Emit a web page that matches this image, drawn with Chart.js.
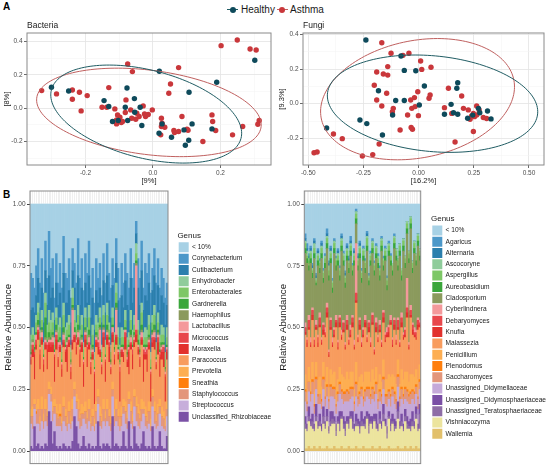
<!DOCTYPE html>
<html><head><meta charset="utf-8">
<script src="https://cdn.jsdelivr.net/npm/chart.js@4.4.0/dist/chart.umd.min.js"></script>
<style>
html,body{margin:0;padding:0;background:#fff;}
body{width:550px;height:469px;position:relative;overflow:hidden;font-family:'Liberation Sans',Arial,sans-serif;}
.box{position:absolute;}
.lbl{position:absolute;font-weight:bold;font-size:10px;color:#000;line-height:12px;}
.key{position:absolute;width:11px;height:10px;}
.key .ln{position:absolute;left:0;top:4.5px;width:11px;height:1px;}
.key .dt{position:absolute;left:2.5px;top:2px;width:6px;height:6px;border-radius:50%;}
.ktxt{position:absolute;font-size:10px;line-height:12px;color:#1a1a1a;}
</style></head><body>
<div class="lbl" style="left:3px;top:1px">A</div>
<div class="lbl" style="left:3px;top:189px">B</div>
<div class="key" style="left:227px;top:4.7px"><div class="ln" style="background:#1f5c63"></div><div class="dt" style="background:#0e4a5b"></div></div>
<div class="ktxt" style="left:241px;top:3.7px">Healthy</div>
<div class="key" style="left:276.5px;top:4.7px"><div class="ln" style="background:#c0605f"></div><div class="dt" style="background:#c9373b"></div></div>
<div class="ktxt" style="left:290px;top:3.7px">Asthma</div>

<div class="box" style="left:0;top:0;width:275px;height:188px"><canvas id="cBS" width="275" height="188"></canvas></div>
<div class="box" style="left:275px;top:0;width:275px;height:188px"><canvas id="cFS" width="275" height="188"></canvas></div>
<div class="box" style="left:0;top:185px;width:278px;height:284px"><canvas id="cBB" width="278" height="284"></canvas></div>
<div class="box" style="left:275px;top:185px;width:275px;height:284px"><canvas id="cFB" width="275" height="284"></canvas></div>

<script>
// ---------- PCoA scatter data ----------
const bactHealthyX = [-0.301,-0.250,-0.145,-0.131,-0.120,-0.103,-0.077,-0.082,-0.075,-0.055,-0.054,-0.038,-0.033,0.019,0.018,0.027,0.055,0.092,0.096,0.106,0.107,0.116,0.189,0.175,0.302];
const bactHealthyY = [0.126,0.104,0.046,0.010,-0.080,-0.074,0.122,0.006,-0.074,0.058,-0.024,0.006,-0.104,0.222,-0.150,-0.094,-0.174,-0.130,-0.222,-0.192,0.096,-0.094,0.156,-0.124,0.288];
const bactAsthmaX = [-0.330,-0.286,-0.239,-0.239,-0.218,-0.213,-0.195,-0.151,-0.137,-0.131,-0.113,-0.080,-0.075,-0.082,-0.098,-0.090,-0.108,-0.094,-0.061,-0.051,-0.048,-0.063,-0.029,-0.022,-0.025,-0.014,-0.002,0.052,0.076,0.047,0.086,0.025,0.025,0.035,0.062,0.064,0.023,0.076,0.101,0.104,0.148,0.175,0.177,0.186,0.202,0.250,0.288,0.306,0.266,0.236,0.315,0.311,-0.105,-0.066,-0.041,-0.108,0.027];
const bactAsthmaY = [0.106,0.086,0.110,0.054,0.096,-0.016,0.076,0.006,0.006,0.124,-0.004,0.050,0.266,-0.026,-0.054,-0.080,-0.094,-0.086,0.220,-0.066,-0.030,-0.060,0.014,-0.050,-0.034,-0.038,-0.010,0.146,0.244,0.090,-0.050,-0.060,-0.110,-0.114,-0.134,-0.146,-0.160,-0.140,-0.126,-0.132,-0.200,-0.040,-0.080,-0.134,0.376,0.410,0.356,0.350,-0.110,-0.160,-0.074,-0.096,-0.040,-0.010,-0.050,-0.070,-0.090];
const fungHealthyX = [-0.239,-0.417,-0.266,-0.235,-0.164,-0.182,-0.118,-0.104,-0.065,-0.080,-0.065,-0.013,0.003,0.026,0.117,0.147,0.158,0.173,0.177,0.177,0.222,0.245,0.271,0.277,0.312,0.328];
const fungHealthyY = [0.368,-0.140,-0.094,-0.115,-0.181,0.075,-0.065,0.018,0.018,0.275,0.192,0.190,-0.008,0.102,-0.061,-0.004,-0.052,0.089,0.121,-0.061,-0.084,-0.066,-0.027,-0.052,-0.042,-0.088];
const fungAsthmaX = [-0.474,-0.460,-0.386,-0.346,-0.255,-0.208,-0.179,-0.201,-0.190,-0.167,-0.190,-0.160,-0.140,-0.140,-0.125,-0.167,-0.145,-0.115,-0.119,-0.084,-0.050,-0.031,-0.016,-0.019,-0.044,-0.071,-0.036,-0.004,-0.001,0.009,0.014,0.047,0.056,0.052,0.117,0.135,0.150,0.165,0.195,0.203,0.225,0.248,0.263,0.233,0.248,0.263,0.274,0.293,0.308,0.253,0.240,-0.034,-0.028];
const fungAsthmaY = [-0.283,-0.279,-0.175,-0.202,-0.302,-0.294,-0.233,0.106,0.021,-0.013,0.183,0.171,0.165,0.214,0.291,0.352,0.060,-0.027,-0.046,-0.152,-0.065,-0.027,-0.017,0.035,0.291,0.279,0.021,0.069,-0.069,0.246,0.198,0.031,0.210,0.050,-0.023,0.089,-0.056,-0.221,0.044,-0.027,-0.036,-0.056,-0.065,-0.090,-0.161,-0.013,-0.036,-0.080,-0.086,-0.075,-0.071,-0.137,-0.148];
// confidence ellipses: [centerX, centerY, semiAxis1X, semiAxis1Y, semiAxis2X, semiAxis2Y]
const bactEllipseHealthy = [-0.020,-0.035,0.283,-0.115,0,0.271];
const bactEllipseAsthma = [-0.012,-0.025,0.333,-0.075,0,0.255];
const fungEllipseHealthy = [0.063,0.000,0.470,0,-0.079,0.281];
const fungEllipseAsthma = [-0.005,0.026,0.430,0,0.090,0.350];

// ---------- Bacteria relative abundance (% per sample) ----------
const bactSamples = 'B01 B02 B03 B04 B05 B06 B07 B08 B09 B10 B11 B12 B13 B14 B15 B16 B17 B18 B19 B20 B21 B22 B23 B24 B25 B26 B27 B28 B29 B30 B31 B32 B33 B34 B35 B36 B37 B38 B39 B40 B41 B42 B43 B44 B45 B46 B47 B48 B49 B50 B51 B52 B53 B54 B55 B56 B57 B58 B59 B60 B61 B62 B63 B64 B65 B66 B67 B68 B69 B70 B71 B72 B73 B74 B75 B76'.split(' ');
const bactGenera = ['Unclassified_Rhizobiaceae','Streptococcus','Staphylococcus','Sneathia','Prevotella','Paracoccus','Moraxella','Micrococcus','Lactobacillus','Haemophilus','Gardnerella','Enterobacterales','Enhydrobacter','Cutibacterium','Corynebacterium','< 10%'];
const bRhizo = [2,1,10,2,3,1,2,1,3,2,16,12,3,8,2,1,2,1,3,2,1,2,1,4,14,10,3,1,2,6,2,1,3,1,2,1,2,12,2,1,3,2,3,2,1,14,2,3,2,1,2,8,2,1,12,2,1,10,3,2,1,3,8,2,1,2,1,10,2,1,2,8,2,1,1,6];
const bStrep = [9,8,7,9,8,7,10,8,9,8,7,8,9,7,8,9,8,7,9,8,7,9,8,8,8,7,9,8,8,7,9,8,9,7,8,7,9,7,8,8,9,8,9,8,7,8,8,9,8,7,8,7,9,8,7,9,8,8,9,8,8,9,7,8,8,9,7,8,9,8,8,7,8,8,7,8];
const bStaph = [3,5,2,4,6,3,5,3,5,4,2,3,4,3,5,3,4,3,6,4,3,5,2,5,3,3,5,4,5,2,5,4,5,3,4,2,5,3,4,3,5,3,5,4,3,3,4,5,4,2,4,3,5,4,2,5,3,4,6,5,4,5,2,4,3,5,2,4,5,3,5,3,4,4,2,3];
const bSneath = [0,0,0,1,0,0,0,0,0,0,0,0,0,0,0,0,1,0,0,0,0,0,0,0,0,0,0,0,0,0,0,0,0,0,0,0,0,0,0,0,0,0,0,0,0,0,0,0,0,0,0,0,0,0,0,0,0,0,0,0,0,0,0,0,0,0,0,0,0,0,0,0,0,0,0,0];
const bPrevo = [3,4,2,3,4,3,5,3,4,3,3,3,4,3,4,3,4,3,4,3,3,4,3,4,3,3,4,3,4,3,4,3,4,3,3,3,4,3,4,3,4,3,4,3,3,3,3,4,3,3,4,3,4,3,3,4,3,3,4,4,3,4,3,4,3,4,3,3,4,3,4,3,4,3,3,3];
const bParaco = [18,20,8,22,24,19,21,17,20,16,12,14,20,7,22,18,21,16,20,19,18,22,15,20,16,16,22,18,21,8,22,18,20,17,20,6,22,14,20,16,21,12,22,19,17,16,18,22,20,7,20,15,21,18,7,21,18,17,22,20,18,22,8,19,17,21,7,17,21,18,20,9,19,18,7,17];
const bMorax = [2,3,10,2,3,6,2,3,2,8,3,2,3,10,4,3,2,3,2,4,9,2,3,3,2,3,2,5,3,9,3,7,2,3,2,12,2,3,2,3,4,8,3,6,2,3,2,3,2,12,2,3,5,2,9,2,6,2,3,2,3,2,11,2,7,2,11,2,4,2,5,8,3,6,10,3];
const bMicro = [1,2,1,2,1,2,1,2,1,2,1,2,1,1,2,1,1,2,1,1,2,1,2,1,1,2,1,2,1,1,2,1,1,2,1,1,1,2,1,1,2,1,1,2,1,1,2,1,1,2,1,1,2,1,1,1,2,1,2,1,1,1,2,1,2,1,1,2,1,1,2,1,1,2,1,1];
const bLacto = [1,1,0,2,1,1,2,1,1,1,1,1,2,1,1,6,1,1,2,1,1,1,1,12,1,1,2,1,1,1,1,1,2,1,1,1,1,1,8,1,1,1,1,1,1,2,1,10,1,1,1,1,1,1,1,2,1,1,26,1,1,2,1,1,1,1,1,1,2,1,1,1,1,1,1,1];
const bHaemo = [0,1,1,0,1,0,1,0,1,0,1,0,1,0,1,0,1,0,1,0,1,0,1,1,0,1,1,0,1,0,1,0,1,0,1,0,1,0,1,0,1,0,1,0,1,0,1,1,0,1,0,1,0,1,0,1,0,1,1,0,1,1,0,1,0,1,0,1,1,0,1,0,1,0,1,0];
const bGardn = [1,0,1,1,2,1,1,1,8,1,2,1,1,1,2,1,1,1,2,1,1,1,1,1,2,1,2,1,1,1,1,1,2,1,1,1,1,1,1,1,1,1,2,1,1,1,1,2,1,1,1,1,1,1,1,2,1,1,1,2,1,2,1,1,1,1,1,1,2,1,1,1,1,1,1,1];
const bEntero = [3,2,2,4,3,3,3,2,6,3,4,3,4,2,3,3,4,3,5,3,3,4,3,3,3,2,4,3,4,3,4,3,5,2,4,3,3,3,3,3,4,3,4,3,3,3,3,4,4,3,3,3,3,3,2,4,3,3,3,4,3,5,2,3,3,4,3,3,4,3,3,3,3,3,3,3];
const bEnhyd = [4,3,3,3,4,3,4,3,4,3,5,4,4,3,4,3,4,3,5,4,3,4,3,4,4,3,4,3,4,3,4,3,5,3,4,3,4,3,4,3,4,3,5,3,3,4,3,4,4,3,4,3,4,3,3,4,3,4,4,4,3,4,3,4,3,4,3,3,4,3,4,3,4,3,3,4];
const bCuti = [10,8,9,8,10,9,9,8,9,8,14,9,10,7,10,8,10,11,12,10,8,10,9,7,9,7,12,10,11,10,10,10,12,11,11,9,10,8,8,9,10,11,11,9,11,9,10,8,11,9,13,9,12,13,9,13,11,11,4,13,12,13,9,13,12,13,12,10,12,12,11,10,12,10,11,9];
const bCoryn = [15,12,10,12,12,10,12,12,12,11,18,12,12,9,12,9,12,12,15,12,10,13,10,9,10,9,15,11,12,11,12,12,14,12,12,11,13,10,10,11,11,12,13,11,12,11,12,10,13,10,13,10,11,13,9,12,10,10,5,12,11,12,9,13,11,12,12,9,11,12,11,9,11,10,11,9];
const bOther = [28,30,34,25,18,32,22,36,15,30,11,26,22,38,20,32,24,34,13,28,30,22,38,18,24,32,14,30,22,35,20,28,15,34,26,40,22,30,24,37,20,32,16,28,34,22,30,14,26,38,24,32,20,28,34,18,30,24,7,22,30,15,34,24,28,20,36,26,18,32,22,34,26,30,38,32];

// ---------- Fungi relative abundance (% per sample) ----------
const fungSamples = 'F01 F02 F03 F04 F05 F06 F07 F08 F09 F10 F11 F12 F13 F14 F15 F16 F17 F18 F19 F20 F21 F22 F23 F24 F25 F26 F27 F28 F29 F30 F31 F32 F33 F34 F35 F36 F37 F38 F39 F40 F41 F42 F43 F44 F45 F46 F47 F48 F49 F50 F51 F52 F53 F54 F55 F56 F57 F58 F59 F60 F61 F62 F63 F64'.split(' ');
const fungGenera = ['Wallemia','Vishniacozyma','Unassigned_Teratosphaeriaceae','Unassigned_Didymosphaeriaceae','Unassigned_Didymellaceae','Saccharomyces','Plenodomus','Penicillium','Malassezia','Knufia','Debaryomyces','Cyberlindnera','Cladosporium','Aureobasidium','Aspergillus','Ascocoryne','Alternaria','Agaricus','< 10%'];
const fWall = [1,1,2,1,1,2,1,1,2,1,1,1,2,1,1,1,2,1,1,1,2,1,1,1,2,1,1,1,2,1,1,1,2,1,1,1,1,2,1,1,1,2,1,1,1,1,2,1,1,1,1,2,1,1,1,2,1,1,2,1,1,2,1,1];
const fVish = [8,7,10,9,8,6,11,8,8,7,10,8,10,6,9,10,9,5,10,7,11,8,5,10,7,12,8,7,8,9,6,9,8,8,12,6,10,7,11,8,7,9,8,11,9,4,11,7,10,7,8,11,8,9,7,10,8,8,6,9,8,11,7,8];
const fTera = [2,1,2,1,3,1,2,1,2,1,3,1,2,1,2,2,1,2,1,3,1,2,2,1,2,1,3,1,2,1,2,2,1,2,1,3,1,2,1,2,1,2,1,3,1,2,1,2,1,2,1,3,1,2,1,2,2,1,2,2,1,2,1,6];
const fDidymo = [3,2,4,2,3,2,5,2,3,2,4,2,3,2,4,3,2,3,2,5,2,3,4,2,3,2,4,2,3,2,3,4,2,3,2,5,2,3,2,4,2,3,2,4,2,3,2,3,3,3,2,4,2,3,2,3,3,2,3,4,2,3,2,4];
const fDidyme = [6,5,6,7,8,4,6,7,4,6,7,6,5,7,6,6,7,4,6,7,5,5,8,6,6,5,6,5,7,5,7,6,5,6,6,6,5,7,5,8,6,4,7,6,6,8,5,5,7,6,5,6,6,6,8,4,6,7,6,5,7,5,6,6];
const fSacch = [4,3,4,3,5,3,4,3,4,3,4,3,4,3,4,3,4,3,3,4,3,4,3,4,3,4,3,3,5,3,4,3,3,4,3,4,3,4,3,4,3,4,3,4,3,4,3,4,3,4,3,4,3,4,3,4,4,3,4,3,4,3,4,3];
const fPleno = [1,1,0,1,1,1,1,1,0,1,1,1,1,1,1,1,1,1,1,1,1,1,1,1,1,1,1,1,1,1,1,1,1,1,1,1,1,1,1,1,1,1,1,1,1,1,1,1,1,1,1,1,1,1,1,1,1,1,1,1,1,1,1,1];
const fPenic = [6,5,6,5,7,5,6,6,7,5,6,6,7,5,6,5,6,7,5,6,6,6,5,7,5,6,6,5,8,6,6,5,6,7,6,6,5,7,5,6,6,6,5,7,6,6,6,7,5,6,6,6,5,7,6,6,7,5,7,6,6,6,7,6];
const fMalas = [16,17,15,13,17,18,13,13,20,17,11,18,20,12,16,11,14,24,12,16,14,18,12,17,14,14,18,16,24,16,19,11,18,18,12,16,14,18,10,14,17,17,14,15,15,17,15,21,11,19,16,12,15,17,16,14,22,13,23,16,16,12,20,15];
const fKnufia = [1,2,1,1,2,1,1,2,1,1,2,1,2,1,1,1,1,2,1,2,1,1,1,2,1,1,2,1,1,1,2,1,1,2,1,2,1,1,1,2,1,1,1,2,1,1,2,1,1,2,1,1,1,2,1,1,2,1,1,2,1,1,2,1];
const fDebar = [2,1,3,1,2,2,1,2,3,1,2,1,2,1,3,1,2,1,2,2,1,3,1,2,1,2,2,1,3,1,2,1,2,1,1,2,1,3,1,2,1,2,1,2,2,1,2,1,2,2,1,3,1,2,1,2,2,1,2,2,1,2,2,1];
const fCyber = [2,1,2,2,1,1,2,1,2,1,1,2,2,1,1,2,1,2,1,1,2,1,1,2,1,2,1,2,20,1,1,2,1,2,1,1,2,1,1,2,1,2,1,1,1,2,1,2,1,1,2,1,1,2,1,1,12,1,2,1,2,1,1,1];
const fClado = [28,30,18,30,12,32,14,28,16,32,16,24,22,28,22,18,30,18,30,14,32,22,22,22,26,28,16,30,8,26,24,22,27,17,34,14,29,24,29,24,27,16,36,16,29,15,28,20,25,28,30,19,34,13,33,24,18,32,31,20,30,26,29,24];
const fAureo = [2,2,2,2,2,2,1,2,2,2,2,2,2,2,2,2,2,2,2,2,2,2,2,2,2,2,2,2,2,2,2,2,2,2,2,2,2,2,2,2,2,2,2,2,2,2,2,2,2,2,2,2,2,2,2,2,2,2,2,2,2,2,2,2];
const fAsper = [2,1,2,2,1,2,1,2,2,2,2,2,2,2,2,2,2,2,2,2,2,2,2,2,2,2,2,2,2,2,2,2,2,2,3,1,2,2,2,2,2,2,2,2,2,2,2,2,2,2,2,2,2,2,2,2,2,2,2,2,2,2,2,2];
const fAscoc = [1,2,1,1,1,2,1,1,1,1,1,1,1,2,1,1,1,1,1,1,1,1,1,1,1,1,0,1,1,1,1,1,1,1,1,1,1,1,1,1,1,1,1,1,1,1,1,0,1,1,1,1,1,1,1,1,1,1,1,1,1,1,1,1];
const fAltern = [1,1,1,1,1,1,1,1,0,1,0,0,1,1,1,0,0,0,1,0,1,0,1,1,1,1,0,1,0,1,1,0,0,0,1,0,0,0,0,0,0,0,0,0,0,0,0,0,0,0,0,0,0,0,0,0,0,0,0,0,0,0,0,0];
const fAgar = [2,2,1,1,1,1,1,1,1,1,1,1,2,1,1,1,1,1,1,1,1,1,1,1,1,2,1,1,1,1,1,1,1,1,1,1,1,1,1,1,1,1,1,1,1,1,1,1,0,1,0,0,0,0,0,0,0,0,0,0,0,0,0,0];
const fOther = [12,16,20,17,24,14,28,18,22,15,26,20,10,23,17,30,14,21,18,25,12,19,27,16,21,13,24,18,2,20,15,26,17,22,11,28,19,14,23,16,20,25,13,21,17,29,15,20,24,12,18,22,16,26,14,21,7,19,5,23,15,20,12,18];

// ---------- colours ----------
const HEALTHY = '#0e4a5b', ASTHMA = '#c9373b';
const HEALTHY_ELL = '#1f5c63', ASTHMA_ELL = '#c0605f';
const bactColors = ['#7b52a6','#c7aedb','#e3967a','#ff7f0e','#fdae52','#f89c5e','#e2312d','#e8474c','#f4999b','#8b9a5d','#3aa63b','#7dc766','#8fcc9b','#2b7fad','#4c98c9','#a7d1e5'];
const fungColors = ['#e2c06b','#ece49e','#8e6da6','#7a4fa5','#c5a9d9','#e3967a','#ff7f0e','#fdae52','#f89c5e','#e2312d','#e8474c','#f4999b','#8b9a5d','#3aa63b','#7dc766','#8fcc9b','#2b7fad','#4c98c9','#a7d1e5'];

const FONT = "'Liberation Sans', Arial, sans-serif";
Chart.defaults.font.family = FONT;
Chart.defaults.color = '#4d4d4d';
Chart.defaults.animation = false;

const panelBorder = {
  id: 'panelBorder',
  beforeDraw(chart) {
    const {ctx, chartArea: a} = chart;
    ctx.save(); ctx.fillStyle = '#ffffff';
    ctx.fillRect(a.left, a.top, a.right - a.left, a.bottom - a.top); ctx.restore();
  },
  afterDraw(chart) {
    const {ctx, chartArea: a} = chart;
    ctx.save(); ctx.strokeStyle = '#8a8a8a'; ctx.lineWidth = 1;
    ctx.strokeRect(a.left, a.top, a.right - a.left, a.bottom - a.top); ctx.restore();
  }
};
const ellipsePlugin = {
  id: 'ellipses',
  afterDatasetsDraw(chart, args, opts) {
    if (!opts || !opts.items) return;
    const xs = chart.scales.x, ys = chart.scales.y, ctx = chart.ctx, a = chart.chartArea;
    ctx.save();
    ctx.beginPath(); ctx.rect(a.left, a.top, a.right - a.left, a.bottom - a.top); ctx.clip();
    opts.items.forEach(e => {
      const [cx, cy, ux, uy, vx, vy] = e.params;
      ctx.beginPath();
      for (let i = 0; i <= 160; i++) {
        const t = i / 160 * Math.PI * 2;
        const px = xs.getPixelForValue(cx + Math.cos(t) * ux + Math.sin(t) * vx);
        const py = ys.getPixelForValue(cy + Math.cos(t) * uy + Math.sin(t) * vy);
        if (i === 0) ctx.moveTo(px, py); else ctx.lineTo(px, py);
      }
      ctx.strokeStyle = e.color; ctx.lineWidth = 1; ctx.stroke();
    });
    ctx.restore();
  }
};

function zip(xs, ys) { return xs.map((x, i) => ({x: x, y: ys[i]})); }

function linAxis(o) {
  const isMajor = v => Math.round(v * o.div) % 2 === 0;
  return {
    type: 'linear', min: o.min, max: o.max,
    afterFit: o.fit,
    ticks: {stepSize: o.step, includeBounds: false, autoSkip: false, maxRotation: 0, padding: 1.5,
      font: {size: 6.5}, color: '#4d4d4d',
      callback: v => isMajor(v) ? Number(v).toFixed(o.dec) : ''},
    grid: {color: c => (c.tick && isMajor(c.tick.value)) ? '#e3e3e3' : '#f3f3f3',
      lineWidth: c => (c.tick && isMajor(c.tick.value)) ? 0.8 : 0.5,
      tickLength: 3, tickColor: c => (c.tick && isMajor(c.tick.value)) ? '#444' : 'rgba(0,0,0,0)'},
    border: {display: false},
    title: {display: true, text: o.title, color: '#1a1a1a', font: {size: 7.5}, padding: o.tpad}
  };
}

function scatterChart(id, c) {
  return new Chart(document.getElementById(id), {
    type: 'scatter',
    data: {datasets: [
      {label: 'Healthy', data: zip(c.hx, c.hy), backgroundColor: HEALTHY, borderWidth: 0, pointRadius: 2.7},
      {label: 'Asthma', data: zip(c.ax, c.ay), backgroundColor: ASTHMA, borderWidth: 0, pointRadius: 2.7}
    ]},
    options: {
      responsive: false, animation: false,
      layout: {padding: {top: 20, right: c.pr, left: 0, bottom: 0}},
      plugins: {
        legend: {display: false}, tooltip: {enabled: false},
        title: {display: true, text: c.title, align: 'start', fullSize: false, color: '#1a1a1a',
          font: {size: 8.5, weight: 'normal'}, padding: {top: 0.6, bottom: 2.2}},
        ellipses: {items: c.ellipses}
      },
      scales: {x: c.xAxis, y: c.yAxis}
    },
    plugins: [panelBorder, ellipsePlugin]
  });
}

scatterChart('cBS', {
  title: 'Bacteria', pr: 2,
  hx: bactHealthyX, hy: bactHealthyY, ax: bactAsthmaX, ay: bactAsthmaY,
  ellipses: [{params: bactEllipseAsthma, color: ASTHMA_ELL}, {params: bactEllipseHealthy, color: HEALTHY_ELL}],
  xAxis: linAxis({min: -0.3735, max: 0.35, step: 0.1, div: 10, dec: 1, title: '[9%]', tpad: {top: 0, bottom: 2.5}, fit: s => { s.height = 23; }}),
  yAxis: linAxis({min: -0.341, max: 0.452, step: 0.1, div: 10, dec: 1, title: '[8%]', tpad: {top: 2.8, bottom: 0}, fit: s => { s.width = 27; }})
});
scatterChart('cFS', {
  title: 'Fungi', pr: 6,
  hx: fungHealthyX, hy: fungHealthyY, ax: fungAsthmaX, ay: fungAsthmaY,
  ellipses: [{params: fungEllipseAsthma, color: ASTHMA_ELL}, {params: fungEllipseHealthy, color: HEALTHY_ELL}],
  xAxis: linAxis({min: -0.524, max: 0.568, step: 0.125, div: 8, dec: 2, title: '[16.2%]', tpad: {top: 0, bottom: 2.5}, fit: s => { s.height = 23; }}),
  yAxis: linAxis({min: -0.354, max: 0.408, step: 0.1, div: 10, dec: 1, title: '[9.3%]', tpad: {top: 2.5, bottom: 0}, fit: s => { s.width = 28; }})
});

function barChart(id, c) {
  const datasets = c.series.map((s, i) => ({label: c.names[i], data: s, backgroundColor: c.colors[i],
    borderWidth: 0, barPercentage: 1, categoryPercentage: 1}));
  return new Chart(document.getElementById(id), {
    type: 'bar',
    data: {labels: c.samples, datasets: datasets},
    options: {
      responsive: false, animation: false,
      layout: {padding: {top: 6, right: c.pr, left: 0, bottom: 0}},
      plugins: {
        tooltip: {enabled: false},
        legend: {display: true, position: 'right', fullSize: false, reverse: true, maxWidth: c.lw,
          labels: {boxWidth: 10, boxHeight: 10, padding: 1.3, color: '#1a1a1a', font: {size: 6.6}},
          title: {display: true, text: 'Genus', position: 'start', color: '#1a1a1a', font: {size: 8}, padding: 0}}
      },
      scales: {
        x: {stacked: true, afterFit: s => { s.height = 4; },
          ticks: {display: false, autoSkip: false},
          grid: {color: '#ececec', lineWidth: 0.8, offset: false, drawTicks: false},
          border: {display: false}},
        y: {stacked: true, min: -5, max: 105.3, afterFit: s => { s.width = c.yw; },
          ticks: {stepSize: 25, includeBounds: false, padding: 1.5, font: {size: 6.5}, color: '#4d4d4d',
            callback: v => (v / 100).toFixed(2)},
          grid: {color: '#ebebeb', tickLength: 3, tickColor: '#444'},
          border: {display: false},
          title: {display: true, text: 'Relative Abundance', color: '#1a1a1a', font: {size: 9.7}, padding: {top: 3, bottom: 0}}},
        gap: {type: 'linear', position: 'right', display: true, afterFit: s => { s.width = c.gap; },
          grid: {display: false, drawTicks: false}, ticks: {display: false}, border: {display: false}}
      }
    },
    plugins: [panelBorder]
  });
}

barChart('cBB', {
  samples: bactSamples, names: bactGenera, colors: bactColors, yw: 30, pr: 2.6, lw: 98, gap: 9.4,
  series: [bRhizo, bStrep, bStaph, bSneath, bPrevo, bParaco, bMorax, bMicro, bLacto, bHaemo, bGardn, bEntero, bEnhyd, bCuti, bCoryn, bOther]
});
barChart('cFB', {
  samples: fungSamples, names: fungGenera, colors: fungColors, yw: 29.3, pr: 1, lw: 118, gap: 10.3,
  series: [fWall, fVish, fTera, fDidymo, fDidyme, fSacch, fPleno, fPenic, fMalas, fKnufia, fDebar, fCyber, fClado, fAureo, fAsper, fAscoc, fAltern, fAgar, fOther]
});
</script>
</body></html>
